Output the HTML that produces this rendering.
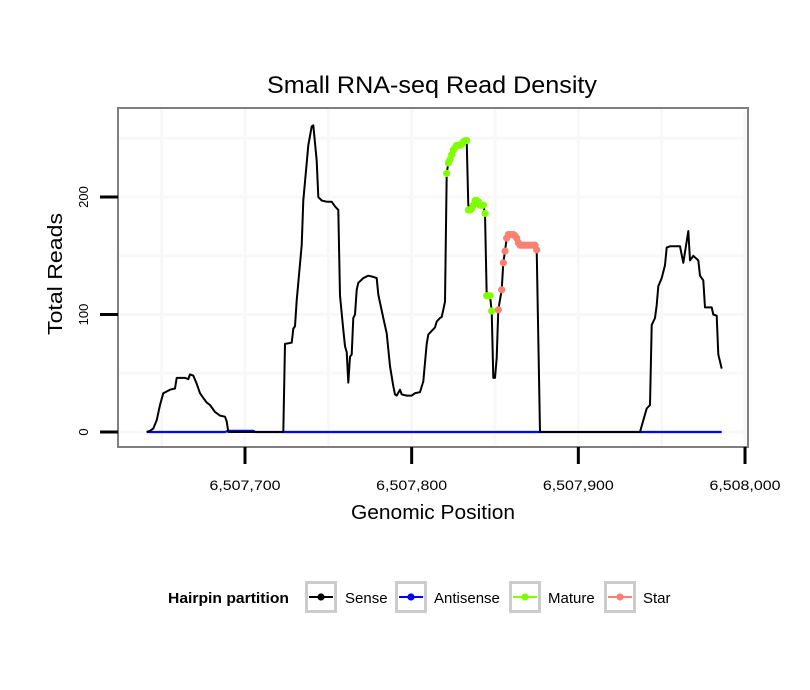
<!DOCTYPE html>
<html><head><meta charset="utf-8"><style>
html,body{margin:0;padding:0;background:#fff;}
svg{display:block;font-family:"Liberation Sans",sans-serif;}
</style></head><body>
<svg id="chart" width="810" height="690" viewBox="0 0 810 690" xmlns="http://www.w3.org/2000/svg">
<rect x="0" y="0" width="810" height="690" fill="#fff"/>
<text x="432" y="93" text-anchor="middle" font-size="24" textLength="330" lengthAdjust="spacingAndGlyphs" fill="#000">Small RNA-seq Read Density</text>
<g id="grid"></g>
<g id="series"></g>
<rect x="118" y="108" width="630" height="339" fill="none" stroke="#7f7f7f" stroke-width="2"/>
<g id="axes"></g>
<text x="433" y="519" text-anchor="middle" font-size="20" textLength="164" lengthAdjust="spacingAndGlyphs">Genomic Position</text>
<text transform="translate(62,274) rotate(-90)" text-anchor="middle" font-size="20" textLength="122" lengthAdjust="spacingAndGlyphs">Total Reads</text>
<g>
<text x="168" y="603" font-size="15" font-weight="bold" textLength="121" lengthAdjust="spacingAndGlyphs">Hairpin partition</text>
<g id="legend-keys"></g>
</g>
</svg>
<script>
const senseX=[6507641,6507643,6507645,6507647,6507649,6507651,6507655,6507658,6507659,6507664,6507666,6507667,6507669,6507671,6507673,6507675,6507677,6507679,6507682,6507685,6507688,6507689,6507690,6507723,6507724,6507728,6507729,6507730,6507731,6507734,6507735,6507738,6507740,6507741,6507743,6507744,6507746,6507749,6507752,6507754,6507756,6507757,6507759,6507760,6507761,6507762,6507763,6507764,6507765,6507766,6507767,6507768,6507771,6507774,6507777,6507779,6507780,6507783,6507785,6507787,6507789,6507790,6507791,6507793,6507794,6507797,6507800,6507802,6507805,6507807,6507809,6507810,6507812,6507814,6507815,6507817,6507818,6507819,6507820,6507821,6507822,6507823,6507825,6507827,6507831,6507832,6507833,6507834,6507835,6507838,6507840,6507843,6507844,6507845,6507847,6507848,6507849,6507850,6507851,6507852,6507854,6507855,6507856,6507857,6507860,6507863,6507864,6507867,6507873,6507875,6507877,6507937,6507939,6507941,6507943,6507944,6507946,6507947,6507948,6507950,6507952,6507953,6507955,6507961,6507963,6507966,6507967,6507969,6507972,6507973,6507975,6507976,6507980,6507981,6507983,6507984,6507986];
const senseY=[0,1,3,10,23,33,36,37,46,46,45,49,48,41,33,29,25,23,17,14,13,9,0,0,75,76,88,90,112,159,197,244,260,261,231,200,197,196,196,192,189,116,87,73,68,42,64,66,97,100,121,127,131,133,132,131,117,97,84,56,39,32,31,36,32,31,31,33,34,43,75,83,86,89,94,97,98,104,111,220,229,236,242,244,244,248,248,193,189,193,197,193,186,116,116,103,46,46,63,104,121,144,154,165,168,167,161,159,159,155,0,0,10,20,23,91,97,108,124,131,142,157,158,158,144,171,146,150,146,133,129,106,106,100,99,66,54];
const antiX=[6507641,6507688,6507690,6507705,6507706,6507986];
const antiY=[0,0,1,1,0,0];
const matureX=[6507821,6507822,6507823,6507824,6507825,6507826,6507827,6507828,6507829,6507830,6507831,6507832,6507833,6507834,6507835,6507836,6507837,6507838,6507839,6507840,6507841,6507842,6507843,6507844,6507845,6507846,6507847,6507848];
const matureY=[220,229,232,236,240,242,244,244,244,245,247,248,248,189,189,190,193,197,197,196,193,193,193,186,116,116,116,103];
const starX=[6507852,6507854,6507855,6507856,6507857,6507858,6507859,6507860,6507861,6507862,6507863,6507864,6507865,6507866,6507867,6507868,6507869,6507870,6507871,6507872,6507873,6507874,6507875];
const starY=[104,121,144,154,165,168,168,168,168,167,165,161,159,159,159,159,159,159,159,159,159,159,155];
const xTicks=[6507700,6507800,6507900,6508000];
const xTickLabels=["6,507,700","6,507,800","6,507,900","6,508,000"];
const yTicks=[0,100,200];
const yTickLabels=["0","100","200"];
const xGrid=[6507650,6507750,6507850,6507950];
const yGrid=[50,150,250];
const legendNames=["Sense","Antisense","Mature","Star"];

const NS="http://www.w3.org/2000/svg";
function xs(p){return 245+(p-6507700)*1.6667;}
function ys(v){return 432-v*1.175;}
function mk(tag,attrs,parent){const e=document.createElementNS(NS,tag);for(const k in attrs)e.setAttribute(k,attrs[k]);parent.appendChild(e);return e;}
const grid=document.getElementById('grid'),series=document.getElementById('series'),axes=document.getElementById('axes'),lk=document.getElementById('legend-keys');

[...xGrid,...xTicks].forEach(p=>{const l=mk('line',{x1:xs(p),x2:xs(p),y1:109,y2:446,stroke:'#f8f8f8','stroke-width':3},grid);

});
[...yGrid,...yTicks].forEach(v=>{const l=mk('line',{x1:119,x2:747,y1:ys(v),y2:ys(v),stroke:'#f8f8f8','stroke-width':3},grid);

});

function path(X,Y,color,w,name){let d='';X.forEach((x,i)=>{d+=(i?'L':'M')+xs(x).toFixed(1)+','+ys(Y[i]).toFixed(1);});
const p=mk('path',{d:d,fill:'none',stroke:color,'stroke-width':w,'stroke-linejoin':'round'},series);

}
path(antiX,antiY,'#0000ff',2.2,'antisense-line');
path(senseX,senseY,'#000',2,'sense-line');
function dots(X,Y,color,name){X.forEach((x,i)=>{const c=mk('circle',{cx:xs(x),cy:ys(Y[i]),r:3.6,fill:color},series);

});}
dots(matureX,matureY,'#7fff00','mature-point');
dots(starX,starY,'#fa8072','star-point');

xTicks.forEach((p,i)=>{const t=mk('line',{x1:xs(p),x2:xs(p),y1:447,y2:464,stroke:'#000','stroke-width':3},axes);


const tx=mk('text',{x:xs(p),y:490,'text-anchor':'middle','font-size':14,textLength:71,lengthAdjust:'spacingAndGlyphs'},axes);tx.textContent=xTickLabels[i];

});
yTicks.forEach((v,i)=>{const t=mk('line',{x1:100,x2:118,y1:ys(v),y2:ys(v),stroke:'#000','stroke-width':3},axes);


const tx=mk('text',{transform:`translate(88,${ys(v)}) rotate(-90)`,'text-anchor':'middle','font-size':13},axes);tx.textContent=yTickLabels[i];

});

const lcol=['#000','#0000ff','#7fff00','#fa8072'],lbox=[305,395,509,604],ltxt=[345,434,548,643];
legendNames.forEach((n,i)=>{const g=mk('g',{},lk);


mk('rect',{x:lbox[i]+1.5,y:582.5,width:29,height:29,fill:'#fff',stroke:'#cccccc','stroke-width':3},g);
mk('line',{x1:lbox[i]+4,x2:lbox[i]+28,y1:597,y2:597,stroke:lcol[i],'stroke-width':2},g);
mk('circle',{cx:lbox[i]+16,cy:597,r:3.6,fill:lcol[i]},g);
const t=mk('text',{x:ltxt[i],y:603,'font-size':15},g);t.textContent=n;});
</script>
</body></html>
